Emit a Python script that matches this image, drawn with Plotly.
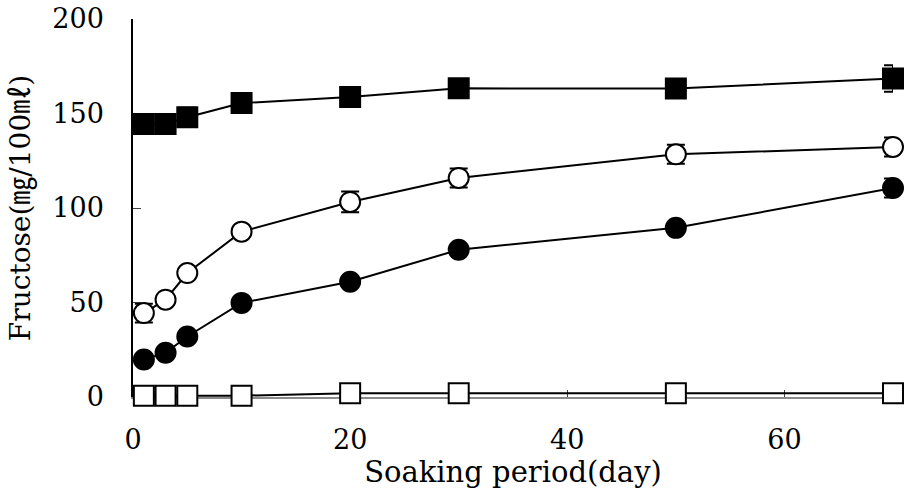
import plotly.graph_objects as go

days = [1, 3, 5, 10, 20, 30, 50, 70]

filled_sq = [144.5, 144.5, 148, 155.5, 158.7, 163.3, 163.2, 168.5]
filled_sq_err = [2, 2, 5, 2, 5, 2, 5, 7]

open_circ = [44.4, 51.5, 65.6, 87.5, 103.2, 115.9, 128.4, 132.3]
open_circ_err = [5, 2, 2, 2, 5.5, 5, 5, 5]

filled_circ = [19.8, 23.4, 32.0, 49.8, 61.0, 77.9, 89.5, 110.6]
filled_circ_err = [1, 1, 2, 2, 2, 2, 2, 5]

open_sq = [0.7, 0.7, 0.7, 0.7, 2.0, 2.0, 2.0, 2.0]
open_sq_err = [0.3, 0.3, 0.3, 0.3, 0.3, 0.3, 0.3, 0.3]

x_ticks = [0, 20, 40, 60]
y_ticks = [0, 50, 100, 150, 200]

x_title = "Soaking period(day)"
y_title = "Fructose(㎎/100㎖)"

FONT = "DejaVu Serif, Noto Sans CJK JP, serif"

fig = go.Figure()


def add_series(y, err, symbol, fill):
    fig.add_trace(go.Scatter(
        x=days, y=y, mode="lines+markers",
        line=dict(color="black", width=2),
        marker=dict(symbol=symbol, size=20, color=fill,
                    line=dict(color="black", width=2)),
        error_y=dict(type="data", array=err, visible=True,
                     color="black", thickness=2, width=9),
        cliponaxis=False, showlegend=False, hoverinfo="skip",
    ))


add_series(open_sq, open_sq_err, "square", "white")
add_series(filled_circ, filled_circ_err, "circle", "black")
add_series(open_circ, open_circ_err, "circle", "white")
add_series(filled_sq, filled_sq_err, "square", "black")

fig.update_layout(
    width=904, height=493,
    margin=dict(l=133, r=11, t=19, b=96),
    paper_bgcolor="white", plot_bgcolor="white",
    font=dict(family=FONT, size=27, color="black"),
    xaxis=dict(
        range=[0, 70], tickvals=x_ticks, ticktext=[str(v) for v in x_ticks],
        showline=True, linecolor="#8a8a8a", linewidth=2,
        ticks="inside", ticklen=7, tickcolor="#444", tickwidth=1,
        showgrid=False, zeroline=False, layer="below traces",
        ticklabelstandoff=18, automargin=False, ticklabeloverflow="allow",
        title=dict(text=x_title, font=dict(size=29), standoff=4),
    ),
    yaxis=dict(
        range=[0, 200], tickvals=y_ticks, ticktext=[str(v) for v in y_ticks],
        showline=True, linecolor="black", linewidth=1.5,
        ticks="inside", ticklen=8, tickcolor="#444", tickwidth=1,
        showgrid=False, zeroline=False, layer="below traces",
        ticklabelstandoff=22, automargin=False, ticklabeloverflow="allow",
        title=dict(text=y_title, font=dict(size=28), standoff=14),
    ),
)

fig.write_html(
    "out.html",
    config={"displayModeBar": False},
    post_script="document.body.style.margin='0';document.body.style.overflow='hidden';",
)
